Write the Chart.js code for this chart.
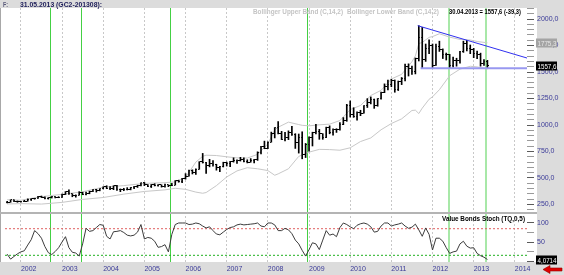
<!DOCTYPE html>
<html>
<head>
<meta charset="utf-8">
<script src="https://cdn.jsdelivr.net/npm/chart.js@4.4.0/dist/chart.umd.min.js"></script>
<style>
  html, body { margin: 0; padding: 0; background: #fff; }
  #wrap { position: relative; width: 564px; height: 275px; }
</style>
</head>
<body>
<div id="wrap"><canvas id="myChart" width="564" height="275"></canvas></div>
<script>
// one bar per month, first bar is Aug 2001, last is Apr 2013
const startYear = 2001, startMonth = 8;

const open = [
  266, 273, 293, 279, 275,
  279, 282, 297, 302, 308, 326, 318, 304, 312, 324, 317, 319,
  348, 368, 350, 336, 339, 364, 346, 354, 375, 388, 386, 398,
  416, 400, 397, 427, 388, 395, 395, 391, 409, 420, 429, 453,
  438, 423, 436, 429, 435, 417, 436, 429, 433, 473, 470, 495,
  518, 569, 556, 584, 654, 643, 616, 633, 626, 599, 607, 648,
  636, 651, 667, 663, 679, 659, 650, 665, 673, 743, 795, 783,
  838, 924, 972, 916, 865, 885, 928, 912, 833, 884, 718, 816,
  884, 928, 942, 916, 884, 979, 927, 954, 955, 1008, 1040, 1182,
  1097, 1081, 1118, 1113, 1180, 1212, 1244, 1181, 1248, 1308, 1359, 1386,
  1421, 1333, 1410, 1439, 1556, 1536, 1502, 1628, 1829, 1620, 1725, 1746,
  1566, 1740, 1711, 1669, 1664, 1560, 1604, 1610, 1692, 1773, 1719, 1713,
  1675, 1663, 1578, 1596.9
];
const high = [
  280, 294, 294, 283, 281,
  290, 303, 305, 309, 327, 330, 323, 316, 326, 325, 324, 349,
  372, 388, 352, 341, 371, 366, 367, 376, 391, 393, 399, 417,
  427, 419, 427, 431, 397, 403, 409, 411, 421, 432, 455, 458,
  438, 439, 446, 438, 436, 442, 436, 449, 476, 480, 498, 541,
  574, 577, 587, 654, 732, 648, 676, 664, 630, 611, 649, 650,
  657, 690, 672, 695, 690, 672, 683, 677, 747, 798, 848, 842,
  933, 976, 1033, 940, 931, 945, 988, 918, 915, 936, 826, 889,
  932, 1006, 959, 918, 980, 992, 963, 965, 1024, 1070, 1195, 1227,
  1163, 1125, 1139, 1183, 1249, 1265, 1245, 1250, 1310, 1388, 1424, 1432,
  1425, 1415, 1448, 1574, 1577, 1555, 1632, 1937, 1921, 1764, 1803, 1764,
  1764, 1791, 1718, 1679, 1666, 1640, 1630, 1695, 1791, 1798, 1755, 1723,
  1697, 1678, 1617, 1610
];
const low = [
  265, 271, 276, 271, 272,
  277, 281, 288, 300, 307, 315, 302, 301, 311, 312, 314, 316,
  344, 345, 323, 319, 338, 342, 341, 351, 371, 367, 379, 397,
  399, 390, 390, 384, 371, 380, 387, 388, 400, 411, 425, 428,
  418, 410, 425, 424, 414, 414, 418, 427, 433, 460, 457, 489,
  517, 538, 534, 582, 641, 543, 605, 612, 574, 560, 604, 613,
  608, 650, 637, 660, 652, 642, 649, 643, 666, 726, 776, 777,
  838, 878, 917, 862, 850, 862, 902, 779, 735, 681, 693, 753,
  802, 917, 865, 865, 881, 917, 904, 930, 952, 1003, 1035, 1075,
  1072, 1045, 1088, 1112, 1165, 1199, 1157, 1177, 1243, 1305, 1330, 1361,
  1309, 1325, 1381, 1417, 1462, 1478, 1482, 1604, 1535, 1600, 1672, 1535,
  1563, 1694, 1627, 1613, 1535, 1546, 1555, 1584, 1685, 1700, 1673, 1635,
  1626, 1555, 1562, 1540
];
const close = [
  273, 293, 279, 275, 279,
  282, 297, 302, 308, 326, 318, 304, 312, 324, 317, 319, 348,
  368, 350, 336, 339, 364, 346, 354, 375, 388, 386, 398, 417,
  400, 397, 427, 388, 395, 395, 391, 409, 420, 429, 453, 438,
  423, 436, 429, 435, 417, 436, 429, 433, 473, 470, 495, 518,
  569, 556, 584, 654, 643, 616, 633, 626, 599, 607, 648, 636,
  651, 667, 663, 679, 659, 650, 665, 673, 743, 795, 783, 838,
  924, 972, 916, 865, 885, 928, 912, 833, 884, 718, 816, 884,
  928, 942, 916, 884, 979, 927, 954, 955, 1008, 1040, 1182, 1097,
  1081, 1118, 1113, 1180, 1212, 1244, 1181, 1248, 1308, 1359, 1386, 1421,
  1333, 1410, 1439, 1556, 1536, 1502, 1628, 1829, 1620, 1725, 1746, 1566,
  1740, 1711, 1669, 1664, 1560, 1604, 1610, 1692, 1773, 1719, 1713, 1675,
  1663, 1578, 1596.9, 1557.6
];

// Bollinger bands (C,14,2) at some months
const bandMonth = [0, 4, 10, 16, 22, 28, 34, 40, 46, 49, 52, 55, 57, 58, 61, 64, 67, 70, 73, 76,
  78, 79, 82, 85, 86, 88, 91, 94, 97, 100, 103, 106, 109, 112, 115, 118, 119, 120, 121, 123,
  124, 126, 129, 132, 135, 137, 140];
const bandUpper = [295, 290, 324, 346, 370, 414, 428, 449, 456, 463, 505, 650, 705, 715, 712, 700, 690, 688, 723, 822,
  954, 979, 1027, 1004, 997, 992, 1002, 1008, 1042, 1145, 1184, 1278, 1327, 1434, 1478, 1597, 1652, 1768, 1779, 1827,
  1834, 1861, 1829, 1807, 1802, 1788, 1775.3];
const bandLower = [255, 258, 254, 270, 298, 316, 348, 373, 388, 403, 393, 367, 356, 363, 428, 510, 567, 597, 587, 570,
  526, 539, 587, 704, 717, 744, 770, 768, 762, 785, 844, 878, 955, 1014, 1058, 1137, 1140, 1108, 1159, 1243,
  1266, 1333, 1465, 1527, 1554, 1548, 1528];

// Value Bonds Stoch (TQ,0,5)
const stoch = [
  18, 5, 12, 19, 24,
  27, 42, 56, 80, 72, 60, 38, 22, 17, 25, 35, 50,
  64, 35, 23, 21, 13, 45, 86, 78, 80, 88, 96, 94,
  65, 58, 77, 78, 80, 75, 68, 66, 68, 76, 96, 58,
  62, 60, 52, 36, 38, 43, 24, 70, 96, 100, 100, 100,
  96, 97, 100, 98, 92, 87, 90, 80, 71, 69, 76, 83,
  88, 90, 95, 97, 95, 96, 97, 98, 100, 92, 90, 100,
  100, 95, 80, 80, 86, 82, 72, 55, 45, 28, 13, 30,
  48, 45, 30, 55, 80, 68, 71, 64, 88, 100, 96, 90,
  85, 94, 98, 100, 97, 90, 76, 78, 92, 100, 100, 92,
  95, 97, 100, 92, 86, 89, 97, 82, 65, 87, 70, 29,
  60, 60, 52, 35, 20, 24, 26, 45, 52, 39, 34, 35,
  20, 14, 10, 4.0714
];
const stochLevels = [85, 15];

// triangle drawn on the price panel: [year, price]
const resistance = [[2011.64, 1937], [2014.32, 1629]];
const support = [[2011.71, 1535], [2014.32, 1535]];

// signal dates (green verticals)
const signalDates = [2002.70, 2003.45, 2005.62, 2008.96, 2012.39, 2013.31];

const yearTicks = [2002, 2003, 2004, 2005, 2006, 2007, 2008, 2009, 2010, 2011, 2012, 2013, 2014];
const priceLabels = [250, 500, 750, 1000, 1250, 1500, 1750, 2000];
const stochLabels = [0, 50, 100];

const lastDate = '30.04.2013';
const titleText = '31.05.2013 (GC2-201308):';

const xMin = 2001.614, xMax = 2014.295;
const monthX = i => startYear + (startMonth + i) / 12;
const comma = (v, d) => v.toFixed(d).replace('.', ',');

const FONT = '"Liberation Sans", Arial, sans-serif';
const NAVY = '#3a3a98';

function tickImage(side) {
  const c = document.createElement('canvas');
  c.width = 3; c.height = 1;
  const g = c.getContext('2d');
  g.fillStyle = '#000';
  g.fillRect(side < 0 ? 0 : 2, 0, 1, 1);
  return c;
}

// text squeezed to a given width, the source font is a narrow one
function fitText(ctx, text, x, y, width) {
  const w = ctx.measureText(text).width;
  ctx.save();
  ctx.translate(x, y);
  ctx.scale(width / w, 1);
  ctx.fillText(text, 0, 0);
  ctx.restore();
}

function valueBox(ctx, text, y, bg, fg) {
  ctx.fillStyle = bg;
  ctx.fillRect(536, Math.round(y) - 4.5, 21, 9);
  ctx.fillStyle = fg;
  ctx.font = '8px ' + FONT;
  ctx.textAlign = 'left';
  ctx.textBaseline = 'middle';
  fitText(ctx, text, 537.5, Math.round(y) + 0.5, 19);
}

const decor = {
  id: 'decor',
  beforeDraw(chart) {
    const ctx = chart.ctx, a = chart.chartArea, W = chart.width, H = chart.height;
    ctx.save();
    ctx.fillStyle = '#fff';
    ctx.fillRect(0, 0, W, H);
    ctx.fillStyle = '#dcdcdc';
    ctx.fillRect(0, 0, W, a.top);
    ctx.fillRect(a.right + 10, 0, W - a.right - 10, H);
    ctx.fillRect(0, a.bottom, W, H - a.bottom);
    ctx.fillStyle = '#a8a8a8';
    ctx.fillRect(0, a.top, 1, a.bottom - a.top);
    ctx.restore();
  },
  beforeDatasetsDraw(chart) {
    const ctx = chart.ctx, a = chart.chartArea, xs = chart.scales.x;
    ctx.save();
    signalDates.forEach(d => {
      const px = Math.round(xs.getPixelForValue(d));
      const pale = d > 2012;
      ctx.fillStyle = pale ? '#a8e8a8' : '#44d044';
      ctx.fillRect(px - (pale ? 1 : 0), a.top, pale ? 2 : 1, a.bottom - a.top);
    });
    ctx.restore();
  },
  afterDatasetsDraw(chart) {
    const ctx = chart.ctx, a = chart.chartArea;
    const ys = chart.scales.y, y2 = chart.scales.y2;
    ctx.save();
    // panel separator
    ctx.fillStyle = '#b4b4b4';
    ctx.fillRect(0, ys.bottom - 1, a.right + 10, 2);

    // header
    ctx.textBaseline = 'middle';
    ctx.textAlign = 'left';
    ctx.font = 'bold 8px ' + FONT;
    ctx.fillStyle = '#5a5a7a';
    fitText(ctx, 'F:', 3, 4.5, 5);
    ctx.fillStyle = '#1e1e5a';
    fitText(ctx, titleText, 20, 4.5, 82);

    // legend of price panel
    const n = close.length;
    const chg = close[n - 1] - close[n - 2];
    ctx.fillStyle = '#c4c4c4';
    fitText(ctx, 'Bollinger Upper Band (C,14,2)', 253, 11.5, 90);
    fitText(ctx, 'Bollinger Lower Band (C,14,2)', 347, 11.5, 92);
    ctx.fillStyle = '#000';
    fitText(ctx, lastDate + ' = ' + comma(close[n - 1], 1) + ' (' + comma(chg, 1) + ')', 449, 11.5, 72);

    // stoch panel title
    fitText(ctx, 'Value Bonds Stoch (TQ,0,5)', 442, y2.top + 6, 83);

    // value boxes on the axis
    valueBox(ctx, comma(bandUpper[bandUpper.length - 1], 1), ys.getPixelForValue(bandUpper[bandUpper.length - 1]), '#a4a4a4', '#e8e8e8');
    valueBox(ctx, comma(close[n - 1], 1), ys.getPixelForValue(close[n - 1]), '#000', '#fff');
    valueBox(ctx, comma(stoch[stoch.length - 1], 4), y2.getPixelForValue(stoch[stoch.length - 1]) + 1, '#000', '#fff');

    // red arrow bottom right
    ctx.fillStyle = '#e00000';
    ctx.strokeStyle = '#900000';
    ctx.lineWidth = 0.6;
    ctx.beginPath();
    ctx.moveTo(543, 269.5);
    ctx.lineTo(550, 265.5);
    ctx.lineTo(550, 268);
    ctx.lineTo(562, 268);
    ctx.lineTo(562, 271);
    ctx.lineTo(550, 271);
    ctx.lineTo(550, 273.5);
    ctx.closePath();
    ctx.fill();
    ctx.stroke();
    ctx.restore();
  }
};

const xs = i => monthX(i);
const datasets = [
  {
    type: 'line', label: 'resistance', yAxisID: 'y', order: 0,
    data: resistance.map(p => ({ x: p[0], y: p[1] })),
    borderColor: '#3030f0', borderWidth: 1, pointRadius: 0
  },
  {
    type: 'line', label: 'support', yAxisID: 'y', order: 0,
    data: support.map(p => ({ x: p[0], y: p[1] })),
    borderColor: '#9898f0', borderWidth: 2, pointRadius: 0
  },
  {
    type: 'bar', label: 'range', yAxisID: 'y', order: 1,
    data: high.map((h, i) => ({ x: xs(i), y: [low[i], h] })),
    backgroundColor: '#000', barThickness: 1, borderWidth: 0
  },
  {
    type: 'line', label: 'open', yAxisID: 'y', order: 1, showLine: false,
    data: open.map((v, i) => ({ x: xs(i), y: v })),
    pointStyle: tickImage(-1), pointRadius: 1
  },
  {
    type: 'line', label: 'close', yAxisID: 'y', order: 1, showLine: false,
    data: close.map((v, i) => ({ x: xs(i), y: v })),
    pointStyle: tickImage(1), pointRadius: 1
  },
  {
    type: 'line', label: 'upper', yAxisID: 'y', order: 5,
    data: bandMonth.map((m, j) => ({ x: xs(m), y: bandUpper[j] })),
    borderColor: '#c8c8c8', borderWidth: 1, pointRadius: 0
  },
  {
    type: 'line', label: 'lower', yAxisID: 'y', order: 5,
    data: bandMonth.map((m, j) => ({ x: xs(m), y: bandLower[j] })),
    borderColor: '#c8c8c8', borderWidth: 1, pointRadius: 0
  },
  {
    type: 'line', label: 'stoch', yAxisID: 'y2', order: 2,
    data: stoch.map((v, i) => ({ x: xs(i), y: v })),
    borderColor: '#3c3c3c', borderWidth: 1, pointRadius: 0
  },
  {
    type: 'line', label: 'high level', yAxisID: 'y2', order: 6,
    data: [{ x: xMin, y: stochLevels[0] }, { x: xMax, y: stochLevels[0] }],
    borderColor: '#e06060', borderWidth: 1, borderDash: [2, 2], pointRadius: 0
  },
  {
    type: 'line', label: 'low level', yAxisID: 'y2', order: 6,
    data: [{ x: xMin, y: stochLevels[1] }, { x: xMax, y: stochLevels[1] }],
    borderColor: '#20b020', borderWidth: 1, borderDash: [2, 2], pointRadius: 0
  }
];

function majorColor(list) {
  return c => (c.tick && list.includes(c.tick.value)) ? '#5a5a5a' : '#9a9a9a';
}

const chart = new Chart(document.getElementById('myChart'), {
  type: 'bar',
  data: { datasets: datasets },
  options: {
    responsive: false,
    animation: false,
    events: [],
    layout: { padding: { top: 8, left: 2, right: 0, bottom: 0 } },
    plugins: { legend: { display: false }, tooltip: { enabled: false } },
    scales: {
      x: {
        type: 'linear', position: 'bottom', min: xMin, max: xMax, offset: false,
        afterBuildTicks: s => { s.ticks = yearTicks.map(v => ({ value: v })); },
        afterFit: s => { s.height = 13; },
        grid: { color: '#c8c8c8', drawTicks: false, lineWidth: 1, offset: false },
        border: { display: false, dash: [2, 2] },
        ticks: {
          autoSkip: false, maxRotation: 0, align: 'start', padding: 3,
          color: NAVY, font: { family: FONT, size: 7 },
          callback: v => String(v)
        }
      },
      y: {
        type: 'linear', position: 'right', stack: 'panels', stackWeight: 205,
        min: 169.8, max: 2103.8,
        afterBuildTicks: s => {
          const t = [];
          for (let v = 200; v <= 2100; v += 50) t.push({ value: v });
          s.ticks = t;
        },
        afterFit: s => { s.width = 37; },
        grid: { drawOnChartArea: false, drawTicks: true, tickLength: 7, tickColor: majorColor(priceLabels) },
        border: { display: false },
        ticks: {
          autoSkip: false, padding: 3, color: NAVY, font: { family: FONT, size: 7 },
          callback: v => priceLabels.includes(v) ? comma(v, 1) : ''
        }
      },
      y2: {
        type: 'linear', position: 'right', stack: 'panels', stackWeight: 49,
        min: -2.6, max: 126.3,
        afterBuildTicks: s => { s.ticks = [0, 25, 50, 75, 100].map(v => ({ value: v })); },
        afterFit: s => { s.width = 37; },
        grid: { drawOnChartArea: false, drawTicks: true, tickLength: 7, tickColor: majorColor(stochLabels) },
        border: { display: false },
        ticks: {
          autoSkip: false, padding: 3, color: NAVY, font: { family: FONT, size: 7 },
          callback: v => stochLabels.includes(v) ? String(v) : ''
        }
      }
    }
  },
  plugins: [decor]
});
</script>
</body>
</html>
